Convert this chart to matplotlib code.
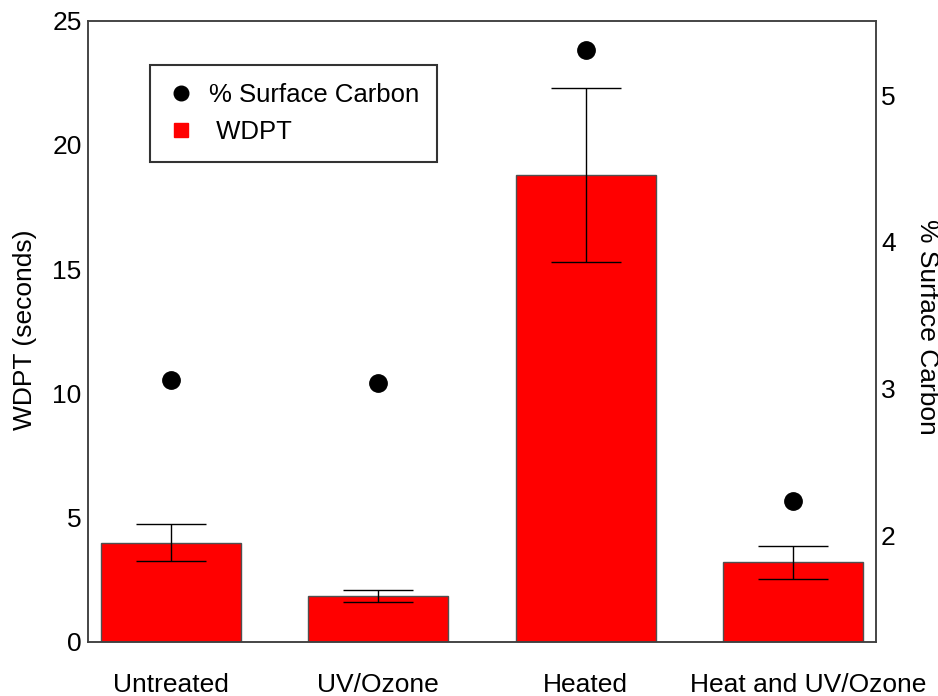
import numpy as np
import matplotlib.pyplot as plt
import matplotlib.transforms as mtransforms
from matplotlib.lines import Line2D

plt.rcParams['font.family'] = ['Liberation Sans', 'DejaVu Sans']

# Treatments and measured values
treatments = ['Untreated', 'UV/Ozone', 'Heated', 'Heat and UV/Ozone']
wdpt = [4.0, 1.86, 18.8, 3.2]          # water drop penetration time (s)
wdpt_err = [0.76, 0.25, 3.5, 0.65]
surface_carbon = [3.06, 3.04, 5.31, 2.23]  # % surface carbon

x = np.arange(len(treatments))

fig = plt.figure(figsize=(9.38, 6.96), dpi=100)
ax = fig.add_axes([0.0938, 0.0776, 0.840, 0.8927])
ax2 = ax.twinx()

ax.bar(x, wdpt, width=0.675, color='#ff0000', edgecolor='#505050', linewidth=1.0, zorder=2)
ax.errorbar(x, wdpt, yerr=wdpt_err, fmt='none', ecolor='black', elinewidth=1.0,
            capsize=25.5, capthick=1.0, zorder=3)

ax2.plot(x, surface_carbon, 'o', color='black', markersize=12.5, zorder=3)

ax.set_xlim(-0.4, 3.4)
ax.set_ylim(0, 25)
ax2.set_ylim(1.27, 5.51)
ax.set_yticks([0, 5, 10, 15, 20, 25])
ax2.set_yticks([2, 3, 4, 5])
ax.set_xticks(x)
ax.set_xticklabels(treatments)

ax.tick_params(axis='both', length=0, labelsize=19)
ax.tick_params(axis='x', pad=22)
ax.tick_params(axis='y', pad=4.5)
ax2.tick_params(axis='y', length=0, labelsize=19, pad=3.6)

# the long last label sits a little to the right of its bar
last = ax.get_xticklabels()[-1]
last.set_transform(last.get_transform() +
                   mtransforms.ScaledTranslation(0.15, 0, fig.dpi_scale_trans))

for a in (ax, ax2):
    for sp in a.spines.values():
        sp.set_color('#404040')
        sp.set_linewidth(1.1)

ax.set_ylabel('WDPT (seconds)', fontsize=19)
ax.yaxis.set_label_coords(-0.0647, 0.502)
ax2.set_ylabel('% Surface Carbon', fontsize=19, rotation=270, va='bottom')
ax2.yaxis.set_label_coords(1.0495, 0.507)

handles = [
    Line2D([], [], marker='o', color='black', linestyle='', markersize=10.5),
    Line2D([], [], marker='s', color='#ff0000', linestyle='', markersize=10.5),
]
leg = ax2.legend(handles, ['% Surface Carbon', ' WDPT'], loc='upper left',
                 bbox_to_anchor=(0.0787, 0.929), borderaxespad=0, fontsize=18.5,
                 frameon=True, fancybox=False, handlelength=1.0, handletextpad=0.6,
                 borderpad=0.7, labelspacing=0.5)
leg.get_frame().set_edgecolor('black')
leg.get_frame().set_linewidth(1.5)

fig.savefig('out.png', dpi=100)
